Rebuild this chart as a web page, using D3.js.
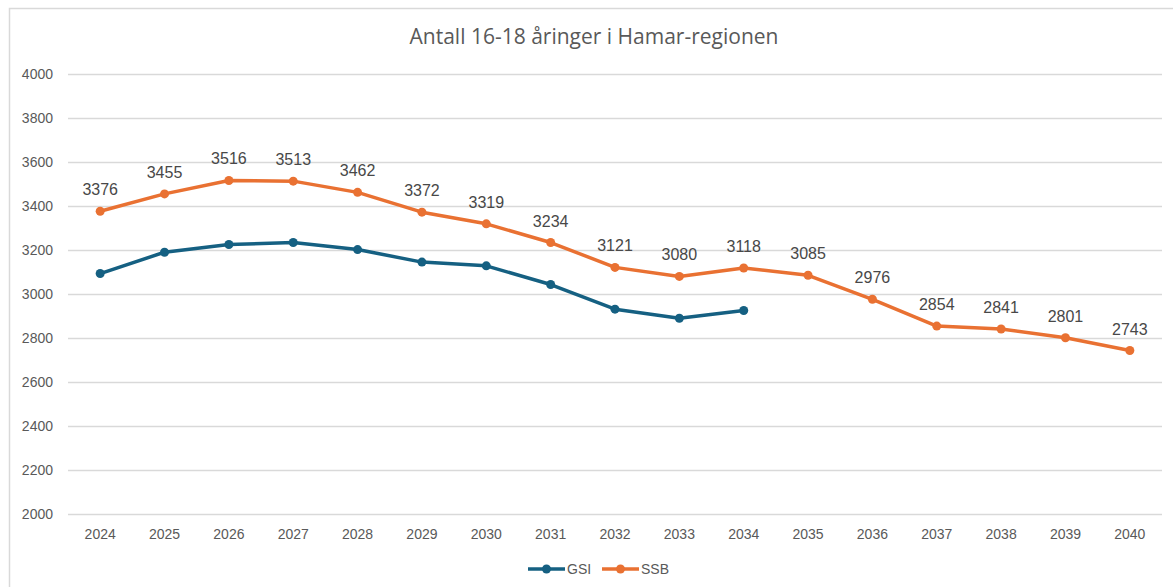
<!DOCTYPE html>
<html>
<head>
<meta charset="utf-8">
<script src="https://cdn.jsdelivr.net/npm/d3@7"></script>
<style>
  body { margin: 0; background: #fff; }
  svg text { font-family: "Liberation Sans", Arial, sans-serif; }
  svg text.title { font-family: "Open Sans", "Noto Sans", sans-serif; }
</style>
</head>
<body>
<svg id="chart" width="1173" height="587"></svg>
<script>
const years = ["2024","2025","2026","2027","2028","2029","2030","2031","2032","2033","2034","2035","2036","2037","2038","2039","2040"];
const gsiValues = [3093, 3190, 3225, 3234, 3202, 3145, 3128, 3043, 2931, 2890, 2925];
const ssbValues = [3376, 3455, 3516, 3513, 3462, 3372, 3319, 3234, 3121, 3080, 3118, 3085, 2976, 2854, 2841, 2801, 2743];
const yTicks = [2000, 2200, 2400, 2600, 2800, 3000, 3200, 3400, 3600, 3800, 4000];

const svg = d3.select("#chart");
const W = 1173, H = 587;
const margin = {left: 68, right: 11, top: 74, bottom: 73};

// chart frame
svg.append("rect")
    .attr("x", 9.5).attr("y", 8.5)
    .attr("width", W + 10).attr("height", H + 10)
    .attr("fill", "#fff")
    .attr("stroke", "#d9d9d9")
    .attr("stroke-width", 1.5);

const x = d3.scaleBand().domain(years).range([margin.left, W - margin.right]);
const y = d3.scaleLinear().domain([2000, 4000]).range([H - margin.bottom, margin.top]);
const cx = d => x(d) + x.bandwidth() / 2;

// title
svg.append("text")
    .attr("class", "title")
    .attr("x", 594).attr("y", 44)
    .attr("text-anchor", "middle")
    .attr("font-size", 21)
    .attr("fill", "#595959")
    .text("Antall 16-18 åringer i Hamar-regionen");

// gridlines + y labels
const yAxis = d3.axisLeft(y).tickValues(yTicks).tickFormat(d3.format("d"))
    .tickSize(-(W - margin.left - margin.right)).tickPadding(15);
svg.append("g")
    .attr("transform", `translate(${margin.left},0)`)
    .call(yAxis)
    .call(g => g.select(".domain").remove())
    .call(g => g.selectAll("line").attr("stroke", "#d9d9d9").attr("stroke-width", 1.3))
    .call(g => g.selectAll("text").attr("fill", "#595959").attr("font-size", 14));

// x labels
const xAxis = d3.axisBottom(x).tickSize(0).tickPadding(15);
svg.append("g")
    .attr("transform", `translate(0,${H - margin.bottom})`)
    .call(xAxis)
    .call(g => g.select(".domain").remove())
    .call(g => g.selectAll("text").attr("fill", "#595959").attr("font-size", 14));

const line = d3.line().x((d, i) => cx(years[i])).y(d => y(d));

function drawSeries(values, color) {
    svg.append("path")
        .datum(values)
        .attr("fill", "none")
        .attr("stroke", color)
        .attr("stroke-width", 3.5)
        .attr("stroke-linejoin", "round")
        .attr("d", line);
    svg.append("g").selectAll("circle")
        .data(values)
        .join("circle")
        .attr("cx", (d, i) => cx(years[i]))
        .attr("cy", d => y(d))
        .attr("r", 4.5)
        .attr("fill", color);
}

drawSeries(gsiValues, "#156082");
drawSeries(ssbValues, "#e97132");

// data labels for SSB
svg.append("g").selectAll("text")
    .data(ssbValues)
    .join("text")
    .attr("x", (d, i) => cx(years[i]))
    .attr("y", d => y(d) - 16)
    .attr("text-anchor", "middle")
    .attr("font-size", 16)
    .attr("fill", "#484848")
    .text(d => d);

// legend
const legend = [
    {name: "GSI", color: "#156082", x: 528},
    {name: "SSB", color: "#e97132", x: 602}
];
const lg = svg.append("g").selectAll("g").data(legend).join("g")
    .attr("transform", d => `translate(${d.x},569)`);
lg.append("line").attr("x1", 0).attr("x2", 37).attr("y1", 0).attr("y2", 0)
    .attr("stroke", d => d.color).attr("stroke-width", 3.5);
lg.append("circle").attr("cx", 18.5).attr("cy", 0).attr("r", 4.5).attr("fill", d => d.color);
lg.append("text").attr("x", 39).attr("y", 5).attr("font-size", 14).attr("fill", "#595959").text(d => d.name);
</script>
</body>
</html>
